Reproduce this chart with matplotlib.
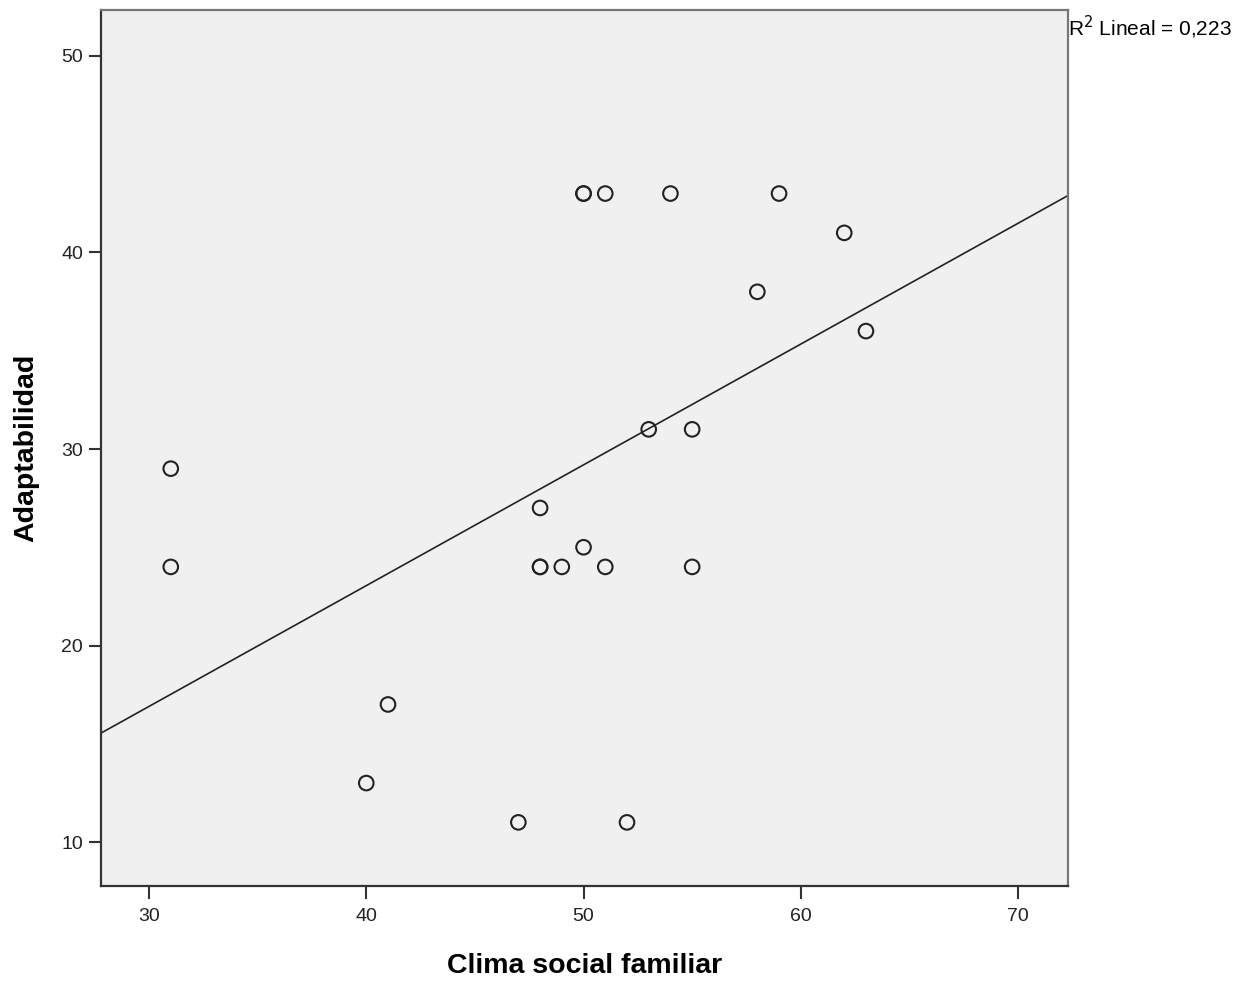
import numpy as np
import matplotlib
matplotlib.use("Agg")
import matplotlib.pyplot as plt

clima = [31, 31, 40, 41, 47, 48, 48, 48, 49, 50, 50, 50, 51, 51, 52, 53, 54, 55, 55, 58, 59, 62, 63]
adapt = [29, 24, 13, 17, 11, 27, 24, 24, 24, 25, 43, 43, 43, 24, 11, 31, 43, 31, 24, 38, 43, 41, 36]
x_ticks = [30, 40, 50, 60, 70]
y_ticks = [10, 20, 30, 40, 50]
r2_label = "R$^2$ Lineal = 0,223"

plt.rcParams['font.family'] = ['Liberation Sans', 'DejaVu Sans']

fig = plt.figure(figsize=(12.55, 9.81), dpi=100)
ax = fig.add_axes([0.0805, 0.0968, 0.7705, 0.893])
ax.set_facecolor('#f0f0f0')

x = np.array(clima, float)
y = np.array(adapt, float)
slope, intercept = np.polyfit(x, y, 1)

xlim = (27.79, 72.3)
ylim = (7.76, 52.34)
xs = np.array(xlim)
ax.plot(xs, intercept + slope * xs, color='#222222', lw=1.2, zorder=2)
ax.scatter(x, y, s=110, facecolors='none', edgecolors='#222222', linewidths=1.5, zorder=3)

ax.set_xlim(*xlim)
ax.set_ylim(*ylim)
ax.set_xticks(x_ticks)
ax.set_yticks(y_ticks)
ax.tick_params(labelsize=14, length=9, width=1.5, color='#333333', labelcolor='#222222')
ax.tick_params(axis='x', pad=7)
ax.tick_params(axis='y', pad=4)

for side in ['left', 'bottom']:
    ax.spines[side].set_color('#333333')
    ax.spines[side].set_linewidth(1.6)
for side in ['top', 'right']:
    ax.spines[side].set_color('#777777')
    ax.spines[side].set_linewidth(1.6)

ax.set_xlabel('Clima social familiar', fontsize=20.5, fontweight='bold', labelpad=20)
ax.set_ylabel('Adaptabilidad', fontsize=20.5, fontweight='bold', labelpad=16)

ax.text(1.0, 0.996, r2_label, transform=ax.transAxes, fontsize=15, ha='left', va='top')

fig.savefig('out.png', dpi=100, facecolor='white')
